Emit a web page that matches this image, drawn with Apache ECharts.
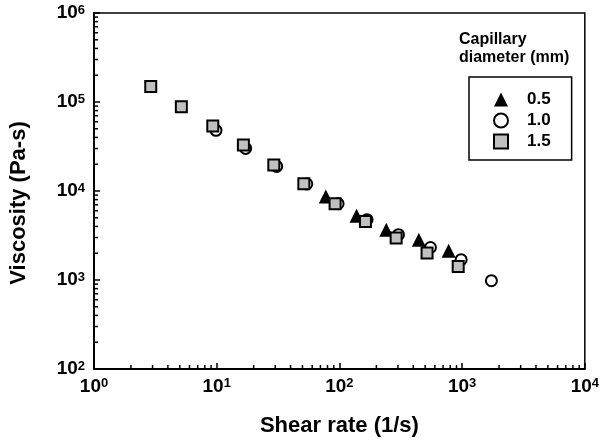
<!DOCTYPE html>
<html>
<head>
<meta charset="utf-8">
<script src="https://cdn.jsdelivr.net/npm/echarts@6/dist/echarts.min.js"></script>
<style>
  html, body { margin: 0; padding: 0; background: #fff; }
  #main { width: 602px; height: 443px; }
</style>
</head>
<body>
<div id="main"></div>
<script>
// capillary diameters
const names = ['0.5', '1.0', '1.5'];

// shear rate (1/s) and viscosity (Pa-s) for each capillary
const rate05 = [77.5, 138, 241, 444, 776];
const visc05 = [8700, 5280, 3670, 2840, 2130];

const rate10 = [9.87, 17.2, 30.8, 54.2, 97.5, 168, 303, 552, 982, 1733];
const visc10 = [48000, 30100, 18900, 12000, 7200, 4760, 3230, 2320, 1690, 982];

const rate15 = [2.9, 5.15, 9.29, 16.5, 29.2, 51.3, 92.2, 163, 290, 518, 929];
const visc15 = [149000, 88600, 53700, 32900, 19600, 12100, 7200, 4550, 2970, 2010, 1420];

// axis ranges (decades)
const xDecades = [0, 1, 2, 3, 4];
const yDecades = [2, 3, 4, 5, 6];

const font = '"Liberation Sans", Arial, sans-serif';

function pairs(xs, ys) {
    return xs.map((x, i) => [x, ys[i]]);
}

// minor tick positions 2..9 inside each decade
function minorTicks(decades) {
    let out = [];
    for (let i = 0; i < decades.length - 1; i++) {
        for (let k = 2; k <= 9; k++) out.push(k * Math.pow(10, decades[i]));
    }
    return out;
}

const xMin = Math.pow(10, xDecades[0]), xMax = Math.pow(10, xDecades[xDecades.length - 1]);
const yMin = Math.pow(10, yDecades[0]), yMax = Math.pow(10, yDecades[yDecades.length - 1]);

function powLabel(v) {
    return '{b|10}{s|' + Math.round(Math.log10(v)) + '}';
}

const labelRich = {
    b: { fontFamily: font, fontWeight: 'bold', fontSize: 19, color: '#000' },
    s: { fontFamily: font, fontWeight: 'bold', fontSize: 13, color: '#000', verticalAlign: 'top' }
};

const chart = echarts.init(document.getElementById('main'), null, { renderer: 'canvas' });

chart.setOption({
    backgroundColor: '#fff',
    animation: false,
    title: {
        text: 'Capillary\ndiameter (mm)',
        left: 459,
        top: 31,
        padding: 0,
        textStyle: {
            fontFamily: font,
            fontWeight: 'bold',
            fontSize: 16,
            lineHeight: 18,
            color: '#000'
        }
    },
    legend: {
        data: names,
        orient: 'vertical',
        left: 469,
        top: 77,
        padding: [14, 21, 10, 24],
        itemWidth: 14,
        itemHeight: 14,
        itemGap: 4,
        borderColor: '#000',
        borderWidth: 1.5,
        borderRadius: 0,
        textStyle: {
            fontFamily: font,
            fontWeight: 'bold',
            fontSize: 17,
            color: '#000',
            padding: [0, 0, 0, 14]
        }
    },
    grid: {
        left: 91,
        right: 15,
        top: 13,
        bottom: 74,
        show: true,
        borderColor: '#000',
        borderWidth: 1.5
    },
    xAxis: {
        type: 'log',
        min: xMin,
        max: xMax,
        logBase: 10,
        name: 'Shear rate (1/s)',
        nameLocation: 'middle',
        nameGap: 46,
        nameTextStyle: { fontFamily: font, fontWeight: 'bold', fontSize: 22, color: '#000' },
        axisLine: { lineStyle: { color: '#000', width: 2 } },
        axisTick: { inside: true, length: 6, lineStyle: { color: '#000', width: 1.5 } },
        axisLabel: { margin: 8, formatter: powLabel, rich: labelRich },
        splitLine: { show: false }
    },
    yAxis: {
        type: 'log',
        min: yMin,
        max: yMax,
        logBase: 10,
        name: 'Viscosity (Pa-s)',
        nameLocation: 'middle',
        nameGap: 64,
        nameTextStyle: {
            fontFamily: font, fontWeight: 'bold', fontSize: 22, color: '#000',
            padding: [0, 24, 0, 0]
        },
        axisLine: { lineStyle: { color: '#000', width: 2 } },
        axisTick: { inside: true, length: 6, lineStyle: { color: '#000', width: 1.5 } },
        axisLabel: { margin: 9, formatter: powLabel, rich: labelRich },
        splitLine: { show: false }
    },
    series: [
        {
            name: names[0],
            type: 'scatter',
            symbol: 'triangle',
            symbolSize: 14,
            itemStyle: { color: '#000', opacity: 1 },
            data: pairs(rate05, visc05),
            z: 3
        },
        {
            name: names[1],
            type: 'scatter',
            symbol: 'circle',
            symbolSize: 11,
            itemStyle: { color: '#fff', borderColor: '#000', borderWidth: 2, opacity: 1 },
            data: pairs(rate10, visc10),
            z: 4
        },
        {
            name: names[2],
            type: 'scatter',
            symbol: 'rect',
            symbolSize: 11,
            itemStyle: { color: '#c0c0c0', borderColor: '#000', borderWidth: 2, opacity: 1 },
            data: pairs(rate15, visc15),
            z: 5
        },
        {
            // minor ticks on the shear-rate axis
            type: 'custom',
            silent: true,
            clip: false,
            data: minorTicks(xDecades).map(v => [v, yMin]),
            renderItem: function (params, api) {
                const p = api.coord([api.value(0), api.value(1)]);
                return {
                    type: 'line',
                    shape: { x1: p[0], y1: p[1], x2: p[0], y2: p[1] - 4 },
                    style: { stroke: '#000', lineWidth: 1.5 }
                };
            },
            z: 2
        },
        {
            // minor ticks on the viscosity axis
            type: 'custom',
            silent: true,
            clip: false,
            data: minorTicks(yDecades).map(v => [xMin, v]),
            renderItem: function (params, api) {
                const p = api.coord([api.value(0), api.value(1)]);
                return {
                    type: 'line',
                    shape: { x1: p[0], y1: p[1], x2: p[0] + 4, y2: p[1] },
                    style: { stroke: '#000', lineWidth: 1.5 }
                };
            },
            z: 2
        }
    ]
});
</script>
</body>
</html>
